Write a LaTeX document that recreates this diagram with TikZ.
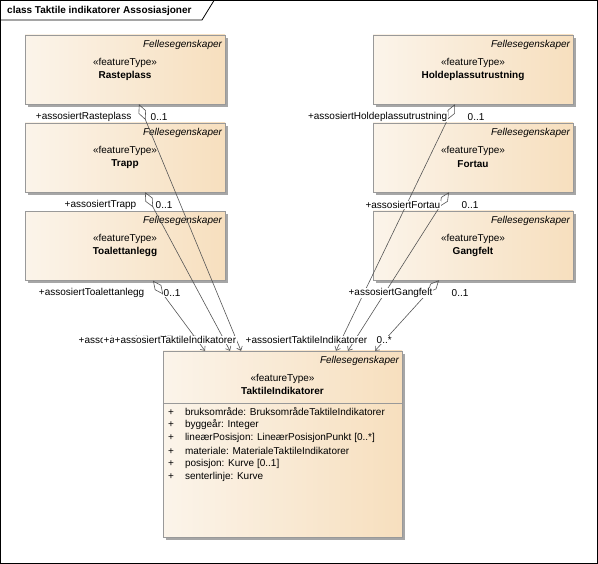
\documentclass[tikz,border=0pt]{standalone}
\usepackage{fontspec}
\setmainfont{Liberation Sans}
\usetikzlibrary{arrows.meta,positioning,calc,shadows}
\definecolor{featlight}{RGB}{251,244,234}
\definecolor{featdark}{RGB}{247,223,190}
\definecolor{linkgray}{RGB}{85,85,85}

\tikzset{
  feat/.style={draw=gray!80, left color=featlight, right color=featdark,
    minimum width=200pt, minimum height=69pt, inner sep=0pt,
    drop shadow={shadow xshift=3pt, shadow yshift=-3pt, fill=gray!70, opacity=1}},
  pkg/.style={font=\itshape, inner sep=0pt},
  stereo/.style={inner sep=0pt},
  fname/.style={font=\bfseries, inner sep=0pt},
  role/.style={inner sep=0.5pt, fill=white},
  attr/.style={inner sep=0pt, anchor=west},
  assoc/.style={draw=linkgray, line width=0.6pt,
    {Diamond[open,length=17pt,width=8pt]}-{Straight Barb[length=3.5pt,width=6pt]}}
}

\begin{document}
\begin{tikzpicture}[x=1pt, y=-1pt, font=\fontsize{10}{12}\selectfont]
  \useasboundingbox (0,0) rectangle (598,564);
  % frame and title tab
  \draw[line width=0.8pt] (0.5,0.5) rectangle (597.5,563.5);
  \draw[line width=0.8pt] (0.5,20) -- (202,20) -- (214,0.5);
  \node[anchor=west, inner sep=0pt, font=\bfseries] (title) at (7,11) {class Taktile indikatorer Assosiasjoner};

  % left column
  \node[feat] (rast) at (125,69.5) {};
  \node[pkg, below left=5pt and 3pt of rast.north east] (rastpkg) {Fellesegenskaper};
  \node[stereo] (rastst) at ($(rast.north)+(0,28)$) {«featureType»};
  \node[fname] (rastnm) at ($(rast.north)+(0,41)$) {Rasteplass};

  \node[feat] (trapp) at (125,157.5) {};
  \node[pkg, below left=5pt and 3pt of trapp.north east] (trapppkg) {Fellesegenskaper};
  \node[stereo] (trappst) at ($(trapp.north)+(0,28)$) {«featureType»};
  \node[fname] (trappnm) at ($(trapp.north)+(0,41)$) {Trapp};

  \node[feat] (toal) at (125,246) {};
  \node[pkg, below left=5pt and 3pt of toal.north east] (toalpkg) {Fellesegenskaper};
  \node[stereo] (toalst) at ($(toal.north)+(0,28)$) {«featureType»};
  \node[fname] (toalnm) at ($(toal.north)+(0,41)$) {Toalettanlegg};

  % right column
  \node[feat] (hold) at (473,69.5) {};
  \node[pkg, below left=5pt and 3pt of hold.north east] (holdpkg) {Fellesegenskaper};
  \node[stereo] (holdst) at ($(hold.north)+(0,28)$) {«featureType»};
  \node[fname] (holdnm) at ($(hold.north)+(0,41)$) {Holdeplassutrustning};

  \node[feat] (fort) at (473,157.5) {};
  \node[pkg, below left=5pt and 3pt of fort.north east] (fortpkg) {Fellesegenskaper};
  \node[stereo] (fortst) at ($(fort.north)+(0,28)$) {«featureType»};
  \node[fname] (fortnm) at ($(fort.north)+(0,41)$) {Fortau};

  \node[feat] (gang) at (473,245.5) {};
  \node[pkg, below left=5pt and 3pt of gang.north east] (gangpkg) {Fellesegenskaper};
  \node[stereo] (gangst) at ($(gang.north)+(0,28)$) {«featureType»};
  \node[fname] (gangnm) at ($(gang.north)+(0,41)$) {Gangfelt};

  % main class
  \node[feat, minimum width=239pt, minimum height=186pt] (taktil) at (282.5,444) {};
  \node[pkg, below left=5pt and 3pt of taktil.north east] (taktilpkg) {Fellesegenskaper};
  \node[stereo] (taktilst) at ($(taktil.north)+(0,28)$) {«featureType»};
  \node[fname] (taktilnm) at ($(taktil.north)+(0,40)$) {TaktileIndikatorer};
  \draw[gray!80] ([yshift=-52pt]taktil.north west) -- ([yshift=-52pt]taktil.north east);
  \foreach \attrtxt [count=\k] in {{bruksområde: BruksområdeTaktileIndikatorer},
      {byggeår: Integer}, {lineærPosisjon: LineærPosisjonPunkt [0..*]},
      {materiale: MaterialeTaktileIndikatorer}, {posisjon: Kurve [0..1]},
      {senterlinje: Kurve}}
    \node[attr] (attr\k) at ($(taktil.north west)+(5,48+13*\k)$) {\makebox[17pt][l]{+}\attrtxt};

  % associations
  \draw[assoc] ([xshift=14pt]rast.south) -- ([xshift=-41.5pt]taktil.north);
  \draw[assoc] ([xshift=20pt]trapp.south) -- ([xshift=-52.5pt]taktil.north);
  \draw[assoc] ([xshift=28pt]toal.south) -- ([xshift=-77.5pt]taktil.north);
  \draw[assoc] ([xshift=-18pt]hold.south) -- ([xshift=53.5pt]taktil.north);
  \draw[assoc] ([xshift=-24pt]fort.south) -- ([xshift=65.5pt]taktil.north);
  \draw[assoc] ([xshift=-34pt]gang.south) -- ([xshift=92.5pt]taktil.north);

  % role names and multiplicities
  \node[role, anchor=east] (rrast) at (132,117) {+assosiertRasteplass};
  \node[role, anchor=west] (mrast) at (150,117) {0..1};
  \node[role, anchor=east] (rtrapp) at (137,205) {+assosiertTrapp};
  \node[role, anchor=west] (mtrapp) at (155,205) {0..1};
  \node[role, anchor=east] (rtoal) at (145,293) {+assosiertToalettanlegg};
  \node[role, anchor=west] (mtoal) at (163,293) {0..1};
  \node[role, anchor=east] (rhold) at (448,117) {+assosiertHoldeplassutrustning};
  \node[role, anchor=west] (mhold) at (467,117) {0..1};
  \node[role, anchor=east] (rfort) at (441,205) {+assosiertFortau};
  \node[role, anchor=west] (mfort) at (461,205) {0..1};
  \node[role, anchor=east] (rgang) at (433,293) {+assosiertGangfelt};
  \node[role, anchor=west] (mgang) at (451,293) {0..1};

  \node[role, anchor=west] (rtak1) at (78,340) {+assosiertTaktileIndikatorer};
  \node[role, anchor=west] (rtak2) at (103,340) {+assosiertTaktileIndikatorer};
  \node[role, anchor=west] (rtak3) at (114,340) {+assosiertTaktileIndikatorer};
  \node[role, anchor=west] (rtak4) at (245,340) {+assosiertTaktileIndikatorer};
  \node[role, anchor=west] (mtak4) at (376,340) {0..*};
\end{tikzpicture}
\end{document}
